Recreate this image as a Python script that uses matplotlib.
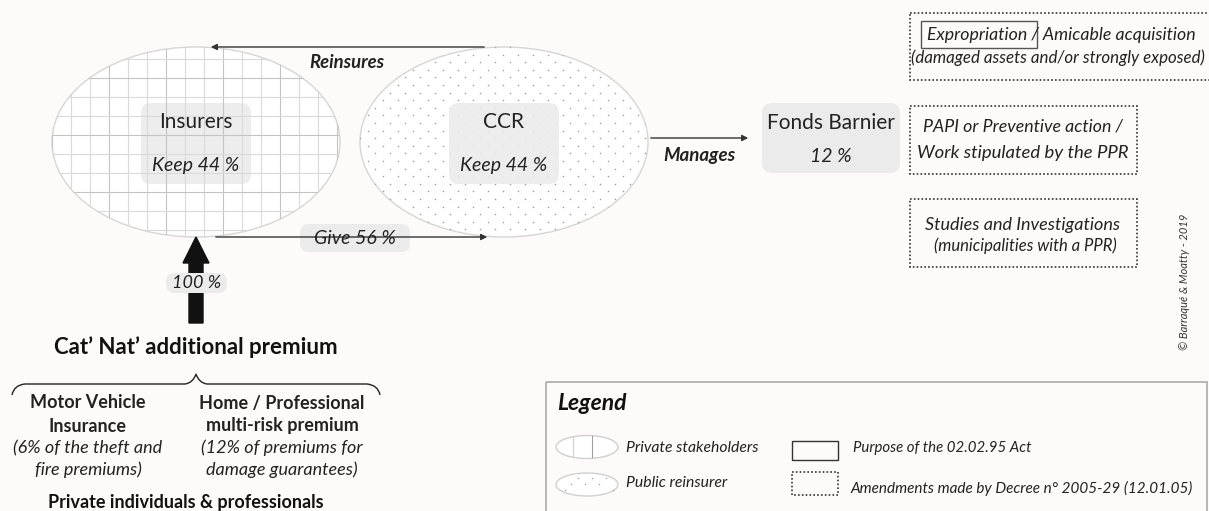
import numpy as np
import matplotlib.pyplot as plt
from matplotlib import patches
from matplotlib.path import Path

plt.rcParams['font.family'] = ['Lato', 'DejaVu Sans']

# shares of the Cat'Nat' premium
premium_share = 100
insurers_keep = 44
ccr_keep = 44
insurers_give = 56
barnier_share = 12

actor_names = ['Insurers', 'CCR']
actor_keep = [insurers_keep, ccr_keep]
flow_labels = ['Reinsures', 'Manages']
barnier_uses = [
    ['Expropriation / Amicable acquisition', '(damaged assets and/or strongly exposed)'],
    ['PAPI or Preventive action /', 'Work stipulated by the PPR'],
    ['Studies and Investigations', '(municipalities with a PPR)'],
]
sources = [
    ['Motor Vehicle', 'Insurance', '(6% of the theft and', 'fire premiums)'],
    ['Home / Professional', 'multi-risk premium', '(12% of premiums for', 'damage guarantees)'],
]
legend_items = ['Private stakeholders', 'Public reinsurer',
                'Purpose of the 02.02.95 Act',
                'Amendments made by Decree n° 2005-29 (12.01.05)']

bg = '#fcfbf9'
fig = plt.figure(figsize=(12.09, 5.11), dpi=100, facecolor=bg)
ax = fig.add_axes([0, 0, 1, 1])
ax.set_xlim(0, 1209)
ax.set_ylim(511, 0)
ax.axis('off')
ax.set_facecolor(bg)


def grid_ellipse(cx, cy, w, h, step=19, lw=0.8):
    e = patches.Ellipse((cx, cy), w, h, facecolor='white', edgecolor='#d6d6d6', lw=1)
    ax.add_patch(e)
    for i, x in enumerate(np.arange(cx - w / 2, cx + w / 2, step)):
        ln, = ax.plot([x, x], [cy - h / 2, cy + h / 2], color='#c4c4c4' if i % 3 == 0 else '#dadada', lw=lw)
        ln.set_clip_path(e)
    for i, y in enumerate(np.arange(cy - h / 2 + 12, cy + h / 2, step)):
        ln, = ax.plot([cx - w / 2, cx + w / 2], [y, y], color='#c4c4c4' if i % 3 == 1 else '#dadada', lw=lw)
        ln.set_clip_path(e)


def dot_ellipse(cx, cy, w, h, dx=15, dy=7.6, s=1.2):
    e = patches.Ellipse((cx, cy), w, h, facecolor='white', edgecolor='#d6d6d6', lw=1)
    ax.add_patch(e)
    xs, ys = [], []
    for j, y in enumerate(np.arange(cy - h / 2, cy + h / 2, dy)):
        off = dx / 2 if j % 2 else 0
        for x in np.arange(cx - w / 2 + off, cx + w / 2, dx):
            xs.append(x)
            ys.append(y)
    sc = ax.scatter(xs, ys, s=s, color='#9a9a9a', linewidths=0)
    sc.set_clip_path(e)


def rbox(x0, y0, x1, y1, r=10, fc='#ebebeb', alpha=0.9):
    ax.add_patch(patches.FancyBboxPatch((x0, y0), x1 - x0, y1 - y0,
                                        boxstyle=f'round,pad=0,rounding_size={r}',
                                        facecolor=fc, edgecolor='none', alpha=alpha))


def dotbox(x0, y0, x1, y1):
    ax.add_patch(patches.Rectangle((x0, y0), x1 - x0, y1 - y0, fill=False,
                                   edgecolor='#333333', lw=1.2, linestyle=(0, (1, 1.3))))


txt = '#222222'

# ellipses
grid_ellipse(196, 142, 288, 190)
dot_ellipse(504, 142, 288, 190)

# actor boxes
for cx, name, keep in zip([196, 504], actor_names, actor_keep):
    rbox(cx - 55, 103, cx + 55, 184)
    ax.text(cx, 122, name, ha='center', va='center', fontsize=15, color=txt)
    ax.text(cx, 166, f'Keep {keep} %', ha='center', va='center', fontsize=14, style='italic', color=txt)

# flows between actors
ax.annotate('', xy=(208, 47), xytext=(487, 47),
            arrowprops=dict(arrowstyle='-|>', color='#333333', lw=1, mutation_scale=9))
ax.text(347, 62, flow_labels[0], ha='center', va='center', fontsize=13.3,
        style='italic', weight='bold', color=txt)

ax.annotate('', xy=(490, 237), xytext=(213, 237),
            arrowprops=dict(arrowstyle='-|>', color='#333333', lw=1, mutation_scale=9))
rbox(300, 224, 410, 252, r=9, alpha=1)
ax.text(355, 238, f'Give {insurers_give} %', ha='center', va='center', fontsize=14,
        style='italic', color=txt)

ax.annotate('', xy=(751, 138), xytext=(648, 138),
            arrowprops=dict(arrowstyle='-|>', color='#333333', lw=1, mutation_scale=9))
ax.text(699, 156, flow_labels[1], ha='center', va='center', fontsize=13.5,
        style='italic', weight='bold', color=txt)

# Fonds Barnier
rbox(762, 103, 900, 173, alpha=1)
ax.text(831, 123, 'Fonds Barnier', ha='center', va='center', fontsize=15, color=txt)
ax.text(831, 157, f'{barnier_share} %', ha='center', va='center', fontsize=14, style='italic', color=txt)

# uses of the Barnier fund
dotbox(910, 13, 1212, 80)
ax.add_patch(patches.Rectangle((921, 21), 116, 27, fill=False, edgecolor='#555555', lw=1))
ax.text(1061, 35, barnier_uses[0][0], ha='center', va='center', fontsize=12.8, style='italic', color=txt)
ax.text(1058, 58, barnier_uses[0][1], ha='center', va='center', fontsize=12.2, style='italic', color=txt)

dotbox(910, 106, 1137, 174)
ax.text(1023, 127, barnier_uses[1][0], ha='center', va='center', fontsize=12.8, style='italic', color=txt)
ax.text(1023, 153, barnier_uses[1][1], ha='center', va='center', fontsize=13.3, style='italic', color=txt)

dotbox(910, 199, 1137, 267)
ax.text(1023, 225, barnier_uses[2][0], ha='center', va='center', fontsize=13, style='italic', color=txt)
ax.text(1025, 246, barnier_uses[2][1], ha='center', va='center', fontsize=12, style='italic', color=txt)

ax.text(1184, 282, '© Barraqué & Moatty - 2019', rotation=90, ha='center', va='center',
        fontsize=8, style='italic', color='#333333')

# premium arrow
ax.add_patch(patches.FancyArrow(196, 323, 0, -86, width=14, head_width=26, head_length=26,
                                length_includes_head=True, color='#111111'))
rbox(166, 273, 227, 293, r=9, alpha=1)
ax.text(197, 283, f'{premium_share} %', ha='center', va='center', fontsize=13, style='italic', color=txt)

ax.text(196, 347, 'Cat\u2019 Nat\u2019 additional premium', ha='center', va='center', fontsize=16,
        weight='bold', color='#111111')

# curly brace
verts = [(12, 395), (14, 385), (25, 384), (45, 384), (185, 384), (193, 383), (196, 374),
         (199, 383), (207, 384), (347, 384), (367, 384), (378, 385), (380, 395)]
codes = [Path.MOVETO, Path.CURVE3, Path.CURVE3, Path.LINETO, Path.LINETO,
         Path.CURVE3, Path.CURVE3, Path.CURVE3, Path.CURVE3, Path.LINETO, Path.LINETO,
         Path.CURVE3, Path.CURVE3]
ax.add_patch(patches.PathPatch(Path(verts, codes), fill=False, edgecolor='#222222', lw=1))

for cx, lines in zip([88, 282], sources):
    ax.text(cx, 403, lines[0], ha='center', va='center', fontsize=13, weight='bold', color=txt)
    ax.text(cx, 426, lines[1], ha='center', va='center', fontsize=13, weight='bold', color=txt)
    ax.text(cx, 448, lines[2], ha='center', va='center', fontsize=13, style='italic', color=txt)
    ax.text(cx, 470, lines[3], ha='center', va='center', fontsize=13, style='italic', color=txt)

ax.text(186, 508, 'Private individuals & professionals', ha='center', va='baseline',
        fontsize=13, weight='bold', color='#111111')

# legend
ax.add_patch(patches.Rectangle((546, 382), 661, 150, fill=False, edgecolor='#b0b0b0', lw=1.3))
ax.text(557, 403, 'Legend', ha='left', va='center', fontsize=16.5, style='italic',
        weight='bold', color='#111111')

e1 = patches.Ellipse((587, 447), 62, 23, facecolor='white', edgecolor='#d0d0d0', lw=1)
ax.add_patch(e1)
for x in [573, 592]:
    ln, = ax.plot([x, x], [435, 459], color='#a0a0a0' if x == 592 else '#d0d0d0', lw=0.8)
    ln.set_clip_path(e1)
e2 = patches.Ellipse((587, 484.5), 62, 23, facecolor='white', edgecolor='#d0d0d0', lw=1)
ax.add_patch(e2)
ax.scatter([578, 592, 606, 571, 585, 599, 565, 613], [478, 478, 478, 484, 484, 484, 490, 490],
           s=1, color='#9a9a9a', linewidths=0)

ax.text(626, 448, legend_items[0], ha='left', va='center', fontsize=11.3, style='italic', color=txt)
ax.text(626, 483, legend_items[1], ha='left', va='center', fontsize=11.3, style='italic', color=txt)

ax.add_patch(patches.Rectangle((792, 441), 46, 19, fill=False, edgecolor='#333333', lw=1))
dotbox(792, 472, 838, 495)
ax.text(853, 448, legend_items[2], ha='left', va='center', fontsize=10.8, style='italic', color=txt)
ax.text(850, 488, legend_items[3], ha='left', va='center', fontsize=11, style='italic', color=txt)

fig.savefig('out.png', dpi=100, facecolor=bg)
